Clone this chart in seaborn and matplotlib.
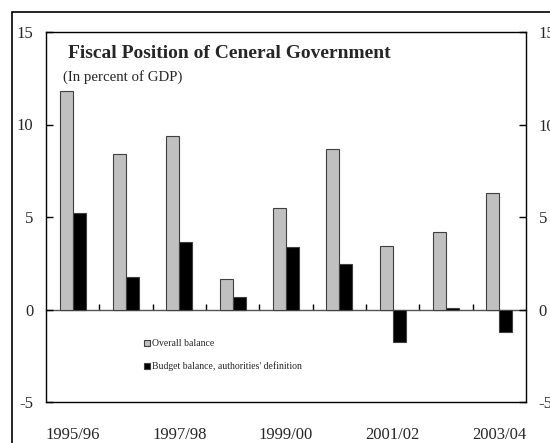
import matplotlib
matplotlib.use("Agg")
import matplotlib.pyplot as plt
from matplotlib.patches import Rectangle, Patch
import seaborn as sns
import pandas as pd

years = ["1995/96", "1996/97", "1997/98", "1998/99", "1999/00",
         "2000/01", "2001/02", "2002/03", "2003/04"]
overall_balance = [11.8, 8.4, 9.4, 1.65, 5.5, 8.7, 3.45, 4.2, 6.3]
budget_balance = [5.2, 1.75, 3.65, 0.7, 3.4, 2.45, -1.75, 0.1, -1.2]
series_names = ["Overall balance", "Budget balance, authorities' definition"]
shown_labels = ["1995/96", "1997/98", "1999/00", "2001/02", "2003/04"]

df = pd.DataFrame({
    "year": years * 2,
    "value": overall_balance + budget_balance,
    "series": [series_names[0]] * len(years) + [series_names[1]] * len(years),
})

sns.set_style("white")
plt.rcParams["font.family"] = ["Liberation Serif", "DejaVu Serif"]
plt.rcParams["axes.unicode_minus"] = False

fig = plt.figure(figsize=(5.5, 4.43), dpi=100)
ax = fig.add_axes([46 / 550, 41 / 443, 480 / 550, 370 / 443])

colors = ["#c0c0c0", "#000000"]
sns.barplot(data=df, x="year", y="value", hue="series", order=years,
            hue_order=series_names, palette=colors, width=0.49, gap=0,
            saturation=1, edgecolor="#404040", linewidth=0.8,
            legend=False, ax=ax)

ax.set_ylim(-5, 15)
ax.set_xlim(-0.5, len(years) - 0.5)
ax.set_yticks([-5, 0, 5, 10, 15])
ax.set_xlabel("")
ax.set_ylabel("")
for s in ax.spines.values():
    s.set_visible(True)
    s.set_color("black")
    s.set_linewidth(1.0)

ax.tick_params(axis="y", direction="in", length=5, width=1, pad=9,
               labelsize=12, left=True, color="black")
ax.set_xticks([years.index(y) for y in shown_labels])
ax.set_xticklabels(shown_labels)
ax.tick_params(axis="x", length=0, pad=18, labelsize=12)

# zero line with group separators
zero = ax.secondary_xaxis(0.25)
zero.set_xticks([i + 0.5 for i in range(len(years) - 1)])
zero.set_xticklabels([])
zero.tick_params(axis="x", direction="in", length=4, width=1, color="black")
zero.spines["bottom"].set_color("#555555")
zero.spines["bottom"].set_linewidth(1.0)

ax2 = ax.twinx()
ax2.set_ylim(-5, 15)
ax2.set_yticks([-5, 0, 5, 10, 15])
ax2.tick_params(axis="y", direction="in", length=5, width=1, pad=9,
                labelsize=12, color="black")
for s in ax2.spines.values():
    s.set_visible(False)

ax.text(0.046, 0.93, "Fiscal Position of Ceneral Government",
        transform=ax.transAxes, fontsize=14, fontweight="bold",
        ha="left", va="baseline")
ax.text(0.035, 0.868, "(In percent of GDP)", transform=ax.transAxes,
        fontsize=10.7, ha="left", va="baseline")

handles = [Patch(facecolor=c, edgecolor="#404040", linewidth=0.8)
           for c in colors]
ax.legend(handles, series_names, loc="upper left",
          bbox_to_anchor=(0.205, 0.169), frameon=False, fontsize=7,
          handlelength=0.6, handleheight=0.6, handletextpad=0.2,
          labelspacing=1.35, borderpad=0, borderaxespad=0)

fig.patches.append(Rectangle((12 / 550, -0.1), 1.2, (443 - 12) / 443 + 0.1,
                             transform=fig.transFigure, fill=False,
                             edgecolor="black", linewidth=1.2))

fig.savefig("out.png", dpi=100)
